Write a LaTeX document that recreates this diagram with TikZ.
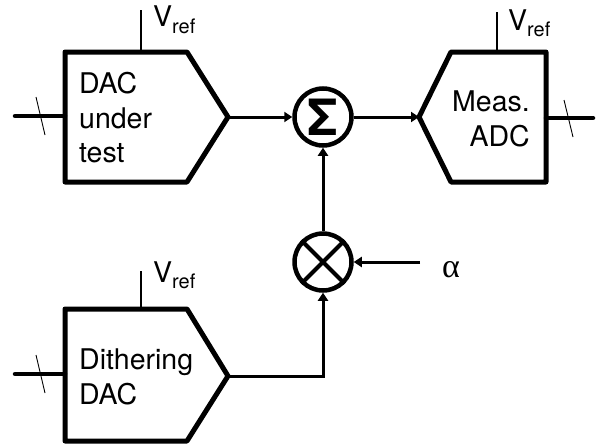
\documentclass[tikz,border=0pt]{standalone}
\usepackage{fontspec}
\setmainfont{TeX Gyre Heros}
\newfontfamily\greekfont{Liberation Serif}
\usetikzlibrary{arrows.meta}

\tikzset{
  block/.style={draw=black,line width=5pt,line join=round},
  wire/.style={draw=black,line width=3pt,-{Triangle[length=8pt,width=10pt]}},
  busline/.style={draw=black,line width=4.5pt,line cap=round},
  refline/.style={draw=black,line width=2.2pt},
  tickline/.style={draw=black,line width=0.9pt},
  label/.style={inner sep=0pt,font=\fontsize{28.5}{34.5}\selectfont,align=left,text=black},
  reflabel/.style={inner sep=0pt,font=\fontsize{28.5}{30}\selectfont,anchor=base west,text=black},
  junction/.style={circle,draw=black,line width=4.5pt,minimum size=57pt,inner sep=0pt}
}

\begin{document}
\begin{tikzpicture}[x=1pt,y=-1pt]
\useasboundingbox (0,0) rectangle (597,447);
% DAC under test
\draw [block] (65,52) -- (187,52) -- (228,117) -- (187,182) -- (65,182) -- cycle;
\coordinate (dacin) at (65,116);
\coordinate (dacbus) at (15,116);
\coordinate (dacout) at (228,117);
\coordinate (dacref) at (141,52);
\coordinate (dacreftop) at (141,10);
\coordinate (dactickup) at (36,97);
\coordinate (dactickdn) at (45,135);
\node [label,anchor=west] (dactext) at (79,118) {DAC\\under\\test};
\node [reflabel] (dacvref) at (153,27) {V\textsubscript{ref}};
% measurement ADC
\draw [block] (451,52) -- (546,52) -- (546,182) -- (451,182) -- (419,117) -- cycle;
\coordinate (adcin) at (419,117);
\coordinate (adcout) at (546,118);
\coordinate (adcbus) at (593,118);
\coordinate (adcref) at (497,52);
\coordinate (adcreftop) at (497,12);
\coordinate (adctickup) at (564,100);
\coordinate (adctickdn) at (573,137);
\node [label,anchor=east,align=right] (adctext) at (530,119) {Meas.\\ADC};
\node [reflabel] (adcvref) at (508,30) {V\textsubscript{ref}};
% dithering DAC
\draw [block] (65,309) -- (187,309) -- (228,376) -- (187,441) -- (65,441) -- cycle;
\coordinate (dithin) at (65,374);
\coordinate (dithbus) at (15,374);
\coordinate (dithout) at (228,376);
\coordinate (dithref) at (141,309);
\coordinate (dithreftop) at (141,271);
\coordinate (dithtickup) at (36,355);
\coordinate (dithtickdn) at (45,393);
\node [label,anchor=west] (dithtext) at (79,377) {Dithering\\DAC};
\node [reflabel] (dithvref) at (153,282) {V\textsubscript{ref}};
% sum and product
\node [junction] (sum) at (323,117) {};
\node [inner sep=0pt,font=\fontsize{50}{50}\selectfont\bfseries] (sigma) at (323,117) {Σ};
\node [junction] (mult) at (323,262) {};
\draw [line width=4pt] (mult.north west) -- (mult.south east);
\draw [line width=4pt] (mult.north east) -- (mult.south west);
\coordinate (alphain) at (420,262);
\node [inner sep=0pt,font=\fontsize{34}{34}\selectfont\greekfont,anchor=base west] (alpha) at (442,277) {α};
% connectors
\draw [wire] (dacout) -- (sum);
\draw [wire] (sum) -- (adcin);
\draw [wire] (mult) -- (sum);
\draw [wire] (alphain) -- (mult);
\draw [wire] (dithout) -| (mult);
\draw [busline] (dacbus) -- (dacin);
\draw [busline] (adcout) -- (adcbus);
\draw [busline] (dithbus) -- (dithin);
\draw [refline] (dacref) -- (dacreftop);
\draw [refline] (adcref) -- (adcreftop);
\draw [refline] (dithref) -- (dithreftop);
\draw [tickline] (dactickup) -- (dactickdn);
\draw [tickline] (adctickup) -- (adctickdn);
\draw [tickline] (dithtickup) -- (dithtickdn);
\end{tikzpicture}
\end{document}
